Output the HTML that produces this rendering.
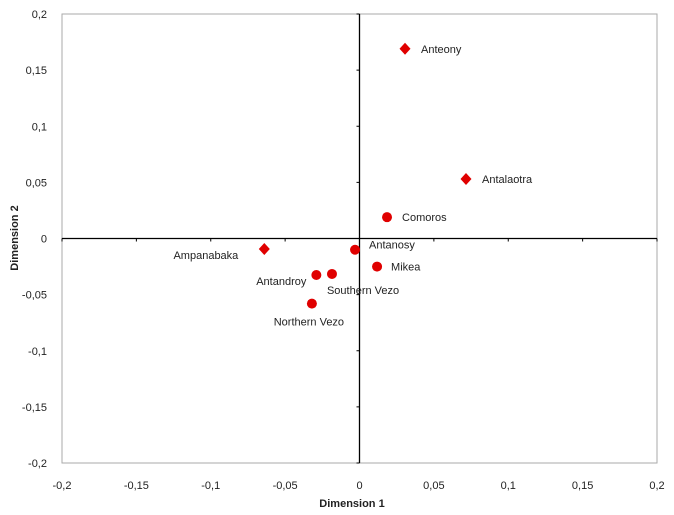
<!DOCTYPE html>
<html><head><meta charset="utf-8"><style>
body{margin:0;background:#fff;}
svg{display:block;font-family:"Liberation Sans",Arial,sans-serif;}
</style></head><body>
<svg id="chart" width="674" height="515"></svg>
<script>
const names=["Anteony","Antalaotra","Comoros","Ampanabaka","Antanosy","Mikea","Antandroy","Southern Vezo","Northern Vezo"];
const xVals=[0.0306,0.0716,0.0185,-0.064,-0.003,0.0118,-0.029,-0.0185,-0.032];
const yVals=[0.169,0.053,0.019,-0.0094,-0.010,-0.025,-0.0325,-0.0316,-0.058];
const shapes=["diamond","diamond","circle","diamond","circle","circle","circle","circle","circle"];
const ticks=[-0.2,-0.15,-0.1,-0.05,0,0.05,0.1,0.15,0.2];
const tickLabels=["-0,2","-0,15","-0,1","-0,05","0","0,05","0,1","0,15","0,2"];
const labelPos=[["start",16,4],["start",16,4],["start",15,4],["end",-26,10],["start",14,-1],["start",14,4],["end",-10,10],["start",-5,20],["middle",-3,22]];

const svg=document.getElementById('chart');
const NS="http://www.w3.org/2000/svg";
const L=62,R=657,T=14,B=463;
const sx=v=>L+(v+0.2)/0.4*(R-L);
const sy=v=>B-(v+0.2)/0.4*(B-T);
function mk(tag,attrs,parent){const e=document.createElementNS(NS,tag);for(const k in attrs)e.setAttribute(k,attrs[k]);(parent||svg).appendChild(e);return e;}

const frame=mk('rect',{x:L,y:T,width:R-L,height:B-T,fill:'none',stroke:'#aaa','stroke-width':1});


const xa=mk('line',{x1:L,x2:R,y1:sy(0),y2:sy(0),stroke:'#000','stroke-width':1.3});


const ya=mk('line',{x1:sx(0),x2:sx(0),y1:T,y2:B,stroke:'#000','stroke-width':1.3});



ticks.forEach((t,i)=>{
  mk('line',{x1:sx(t),x2:sx(t),y1:sy(0),y2:sy(0)+3,stroke:'#000'});
  mk('line',{x1:sx(0)-3,x2:sx(0),y1:sy(t),y2:sy(t),stroke:'#000'});
  const xl=mk('text',{x:sx(t),y:489,'text-anchor':'middle','font-size':11,fill:'#222'});
  xl.textContent=tickLabels[i];
  
  
  const yl=mk('text',{x:47,y:sy(t)+4,'text-anchor':'end','font-size':11,fill:'#222'});
  yl.textContent=tickLabels[i];
  
  
});

const xt=mk('text',{x:352,y:507,'text-anchor':'middle','font-size':11,'font-weight':'bold',fill:'#222'});
xt.textContent="Dimension 1";


const yt=mk('text',{x:0,y:0,'text-anchor':'middle','font-size':11,'font-weight':'bold',fill:'#222',transform:'translate(18,238) rotate(-90)'});
yt.textContent="Dimension 2";



names.forEach((n,i)=>{
  const cx=sx(xVals[i]),cy=sy(yVals[i]);
  let m;
  if(shapes[i]==="diamond"){
    m=mk('polygon',{points:`${cx},${cy-6} ${cx+5.5},${cy} ${cx},${cy+6} ${cx-5.5},${cy}`,fill:'#e00000'});
  }else{
    m=mk('circle',{cx:cx,cy:cy,r:5,fill:'#e00000'});
  }
  
  
  const p=labelPos[i];
  const t=mk('text',{x:cx+p[1],y:cy+p[2],'text-anchor':p[0],'font-size':11,fill:'#222'});
  t.textContent=n;
  
  
});
</script>
</body></html>
